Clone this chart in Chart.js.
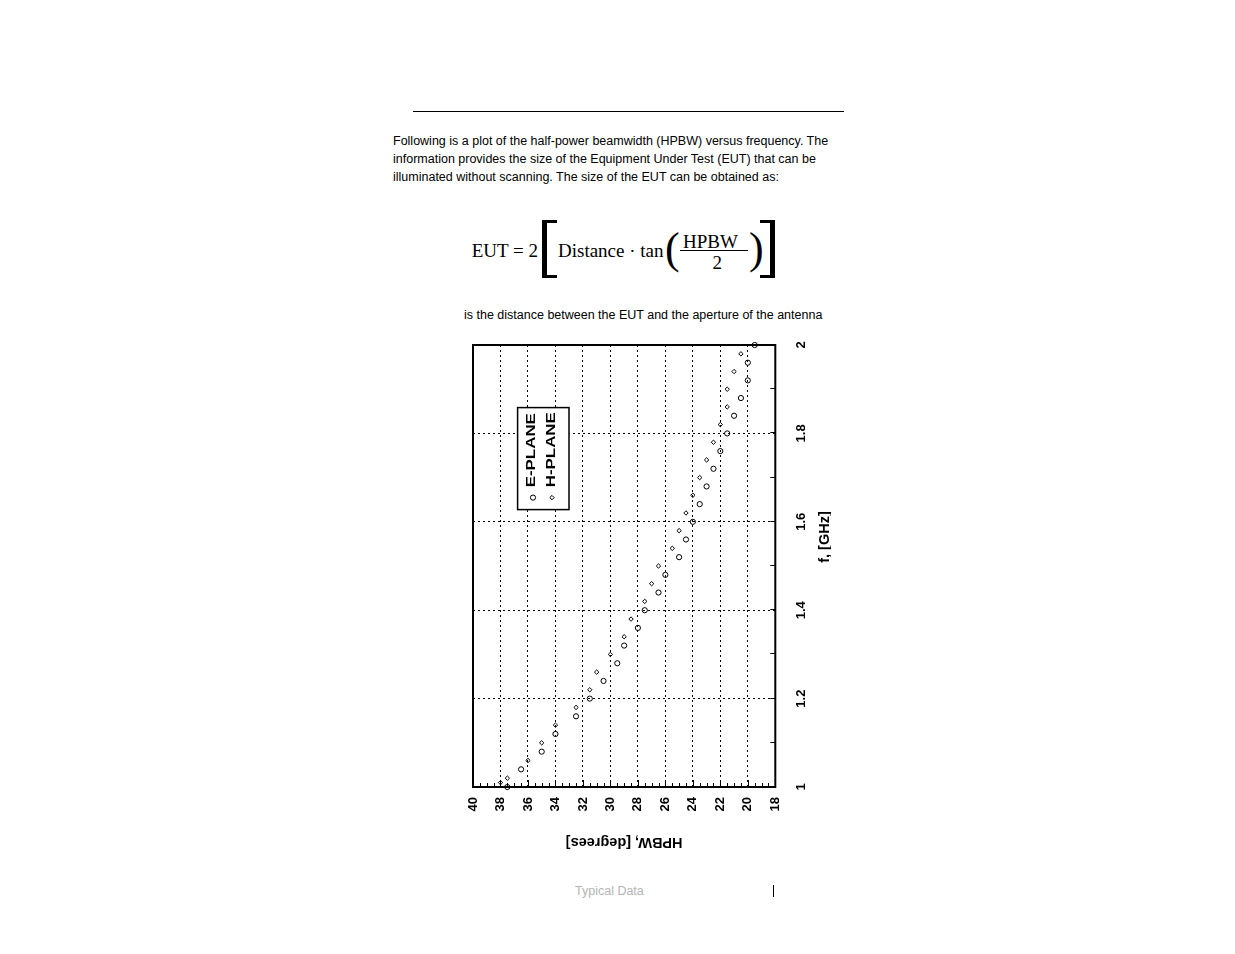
<!DOCTYPE html>
<html>
<head>
<meta charset="utf-8">
<title>HPBW versus frequency</title>
<script src="https://cdn.jsdelivr.net/npm/chart.js@4.4.1/dist/chart.umd.min.js"></script>
<style>
  body { margin: 0; background: #fff; width: 1235px; height: 954px; position: relative; overflow: hidden; }
  .abs { position: absolute; white-space: nowrap; }
  .sans { font-family: 'Liberation Sans', Arial, sans-serif; font-size: 12.5px; line-height: 18px; color: #000; }
  .serif { font-family: 'Liberation Serif', 'Times New Roman', serif; font-size: 19px; line-height: 19px; }
  .big { font-family: 'Liberation Serif', 'Times New Roman', serif; font-size: 44px; line-height: 44px; }
  #plot { position: absolute; left: 460.7px; top: 876.7px; width: 546px; height: 370px;
          transform-origin: 0 0; transform: rotate(-90deg); }
</style>
</head>
<body>

<div class="abs" style="left:413px; top:110.5px; width:431px; height:1px; background:#000;"></div>

<div class="abs sans" style="left:393px; top:132.2px;">
  Following is a plot of the half-power beamwidth (HPBW) versus frequency. The<br>
  information provides the size of the Equipment Under Test (EUT) that can be<br>
  illuminated without scanning. The size of the EUT can be obtained as:
</div>

<!-- formula -->
<div class="abs serif" style="left:471.7px; top:240.8px;">EUT = 2</div>
<div class="abs" style="left:541.7px; top:220px; width:10px; height:52px; border-left:5px solid #000; border-top:3px solid #000; border-bottom:3px solid #000;"></div>
<div class="abs serif" style="left:558px; top:240.8px;">Distance · tan</div>
<div class="abs big" style="left:665px; top:226.6px;">(</div>
<div class="abs serif" style="left:683px; top:231.8px;">HPBW</div>
<div class="abs" style="left:680px; top:250.2px; width:68px; height:1px; background:#000;"></div>
<div class="abs serif" style="left:712.5px; top:253.4px;">2</div>
<div class="abs big" style="left:749px; top:226.6px;">)</div>
<div class="abs" style="left:760px; top:220px; width:10px; height:52px; border-right:5px solid #000; border-top:3px solid #000; border-bottom:3px solid #000;"></div>

<div class="abs sans" style="left:464px; top:305.7px;">is the distance between the EUT and the aperture of the antenna</div>

<div id="plot"><canvas id="chart" width="546" height="370"></canvas></div>

<div class="abs sans" style="left:575px; top:881.7px; color:#b4b4b4;">Typical Data</div>
<div class="abs" style="left:772.5px; top:885px; width:1.2px; height:12px; background:#000;"></div>

<script>
// E-plane (circles) and H-plane (diamonds)
const ePlaneFreq = [1.00, 1.04, 1.08, 1.12, 1.16, 1.20, 1.24, 1.28, 1.32, 1.36, 1.40, 1.44, 1.48,
                    1.52, 1.56, 1.60, 1.64, 1.68, 1.72, 1.76, 1.80, 1.84, 1.88, 1.92, 1.96, 2.00];
const ePlaneHpbw = [37.5, 36.5, 35.0, 34.0, 32.5, 31.5, 30.5, 29.5, 29.0, 28.0, 27.5, 26.5, 26.0,
                    25.0, 24.5, 24.0, 23.5, 23.0, 22.5, 22.0, 21.5, 21.0, 20.5, 20.0, 20.0, 19.5];
const hPlaneFreq = [1.01, 1.02, 1.06, 1.10, 1.14, 1.18, 1.22, 1.26, 1.30, 1.34, 1.38, 1.42, 1.46,
                    1.50, 1.54, 1.58, 1.62, 1.66, 1.70, 1.74, 1.78, 1.82, 1.86, 1.90, 1.94, 1.98];
const hPlaneHpbw = [38.0, 37.5, 36.0, 35.0, 34.0, 32.5, 31.5, 31.0, 30.0, 29.0, 28.5, 27.5, 27.0,
                    26.5, 25.5, 25.0, 24.5, 24.0, 23.5, 23.0, 22.5, 22.0, 21.5, 21.5, 21.0, 20.5];
const freqTicks = [1, 1.2, 1.4, 1.6, 1.8, 2];
const hpbwTicks = [18, 20, 22, 24, 26, 28, 30, 32, 34, 36, 38, 40];
const legendLabels = ['E-PLANE', 'H-PLANE'];

const tickFont = {family: "'Liberation Sans', Arial", size: 13, weight: 'bold'};

// box, minor ticks, axis titles and the boxed legend
const decor = {
    id: 'decor',
    beforeDatasetsDraw(chart) {
        const {ctx, chartArea: a, scales: {x, y}} = chart;
        ctx.save();
        ctx.strokeStyle = '#000';
        ctx.lineWidth = 1;
        ctx.beginPath();
        for (let d = hpbwTicks[0]; d <= hpbwTicks[hpbwTicks.length - 1]; d += 0.5) {
            const py = Math.round(y.getPixelForValue(d)) + 0.5;
            const len = d % 2 === 0 ? 7 : 4;
            ctx.moveTo(a.left, py);
            ctx.lineTo(a.left + len, py);
        }
        for (let i = 0; i <= 10; i++) {
            const px = Math.round(x.getPixelForValue(1 + i / 10)) + 0.5;
            ctx.moveTo(px, a.bottom);
            ctx.lineTo(px, a.bottom - 5);
        }
        ctx.stroke();
        ctx.lineWidth = 2;
        ctx.strokeRect(a.left, a.top, a.right - a.left, a.bottom - a.top);
        ctx.restore();
    },
    afterDraw(chart) {
        const {ctx, chartArea: a} = chart;
        ctx.save();
        ctx.fillStyle = '#000';
        ctx.strokeStyle = '#000';
        ctx.textAlign = 'center';
        ctx.textBaseline = 'middle';
        ctx.font = "bold 14.5px 'Liberation Sans', Arial";
        // HPBW title
        ctx.save();
        ctx.translate(a.left - 55, (a.top + a.bottom) / 2);
        ctx.rotate(-Math.PI / 2);
        ctx.fillText('HPBW, [degrees]', 0, 0);
        ctx.restore();
        // frequency title
        ctx.fillText('f, [GHz]', 340, a.bottom + 50);

        // legend box (opaque, hides the grid)
        const bx = a.left + 277.4, by = a.top + 44.6;
        ctx.fillStyle = '#fff';
        ctx.fillRect(bx, by, 102, 51.4);
        ctx.fillStyle = '#000';
        ctx.lineWidth = 1.5;
        ctx.strokeRect(bx, by, 102, 51.4);
        ctx.lineWidth = 1;
        ctx.beginPath();
        ctx.arc(a.left + 289.4, a.top + 60, 2.6, 0, Math.PI * 2);
        ctx.stroke();
        const hx = a.left + 289.4, hy = a.top + 79;
        ctx.beginPath();
        ctx.moveTo(hx, hy - 2.2); ctx.lineTo(hx + 2.2, hy); ctx.lineTo(hx, hy + 2.2); ctx.lineTo(hx - 2.2, hy); ctx.closePath();
        ctx.stroke();
        ctx.textAlign = 'left';
        ctx.font = "bold 13px 'Liberation Sans', Arial";
        legendLabels.forEach((t, i) => {
            ctx.save();
            ctx.translate(a.left + 299.7, a.top + 58.8 + i * 19.2);
            ctx.scale(1.3, 1);
            ctx.fillText(t, 0, 0);
            ctx.restore();
        });
        ctx.restore();
    }
};

new Chart(document.getElementById('chart'), {
    type: 'scatter',
    data: {
        datasets: [
            {
                label: legendLabels[0],
                data: ePlaneFreq.map((f, i) => ({x: f, y: ePlaneHpbw[i]})),
                pointStyle: 'circle',
                pointRadius: 2.6,
                borderColor: '#000',
                borderWidth: 1,
                backgroundColor: 'rgba(0,0,0,0)',
                clip: false
            },
            {
                label: legendLabels[1],
                data: hPlaneFreq.map((f, i) => ({x: f, y: hPlaneHpbw[i]})),
                pointStyle: 'rectRot',
                pointRadius: 2.2,
                borderColor: '#000',
                borderWidth: 1,
                backgroundColor: 'rgba(0,0,0,0)',
                clip: false
            }
        ]
    },
    options: {
        responsive: false,
        animation: false,
        layout: { padding: { top: 12, right: 14, left: 0, bottom: 0 } },
        plugins: {
            legend: { display: false },
            tooltip: { enabled: false }
        },
        scales: {
            x: {
                type: 'linear',
                position: 'bottom',
                min: 1,
                max: 2,
                afterBuildTicks: s => { s.ticks = freqTicks.map(v => ({value: v})); },
                afterFit: s => { s.height = 55.7; },
                ticks: {
                    autoSkip: false,
                    maxRotation: 0,
                    padding: 0,
                    color: '#000',
                    font: tickFont,
                    callback: v => String(Math.round(v * 10) / 10)
                },
                grid: { color: '#000', lineWidth: 1, drawTicks: true, tickLength: 18, tickColor: 'rgba(0,0,0,0)' },
                border: { display: false, dash: [2, 3] }
            },
            y: {
                type: 'linear',
                position: 'left',
                min: 18,
                max: 40,
                afterBuildTicks: s => { s.ticks = hpbwTicks.map(v => ({value: v})); },
                afterFit: s => { s.width = 90; },
                ticks: {
                    autoSkip: false,
                    padding: 0,
                    color: '#000',
                    font: tickFont,
                    callback: v => String(v)
                },
                grid: { color: '#000', lineWidth: 1, drawTicks: true, tickLength: 10, tickColor: 'rgba(0,0,0,0)' },
                border: { display: false, dash: [2, 3] }
            }
        }
    },
    plugins: [decor]
});
</script>
</body>
</html>
